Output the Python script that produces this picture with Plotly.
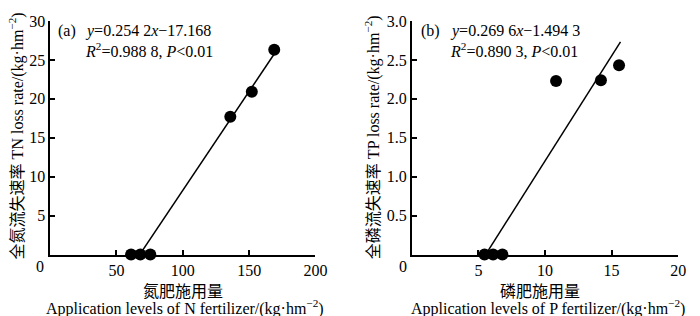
import plotly.graph_objects as go

# ---- data ----
n_x = [61, 68, 75.5, 135.8, 152, 168.9]
n_y = [0, 0, 0, 17.7, 20.9, 26.3]
n_fit_x = [67.5, 169.5]
n_slope, n_int = 0.2542, -17.168

p_x = [5.46, 6.1, 6.8, 10.83, 14.2, 15.56]
p_y = [0, 0, 0, 2.23, 2.24, 2.43]
p_fit_x = [5.54, 15.67]
p_slope, p_int = 0.2696, -1.4943

n_xticks = [50, 100, 150, 200]
n_yticks = [5, 10, 15, 20, 25, 30]
p_xticks = [5, 10, 15, 20]
p_yticks = [0.5, 1.0, 1.5, 2.0, 2.5, 3.0]

W, H = 700, 316
SERIF = "Liberation Serif, Times New Roman, serif"
CJK = "Noto Sans CJK SC"

fig = go.Figure()
fig.add_trace(go.Scatter(x=n_fit_x, y=[n_slope * v + n_int for v in n_fit_x], mode="lines",
                         line=dict(color="black", width=1.5), xaxis="x", yaxis="y", cliponaxis=False))
fig.add_trace(go.Scatter(x=n_x, y=n_y, mode="markers", marker=dict(color="black", size=12),
                         xaxis="x", yaxis="y", cliponaxis=False))
fig.add_trace(go.Scatter(x=p_fit_x, y=[p_slope * v + p_int for v in p_fit_x], mode="lines",
                         line=dict(color="black", width=1.5), xaxis="x2", yaxis="y2", cliponaxis=False))
fig.add_trace(go.Scatter(x=p_x, y=p_y, mode="markers", marker=dict(color="black", size=12),
                         xaxis="x2", yaxis="y2", cliponaxis=False))

ydom = [(H - 253) / H, (H - 13.3) / H]
axis_common = dict(showline=True, linecolor="black", linewidth=1.5, ticks="inside", ticklen=5,
                   tickcolor="black", tickwidth=1.5, showgrid=False, zeroline=False,
                   tickfont=dict(family=SERIF, size=16, color="black"))

fig.update_layout(
    width=W, height=H, margin=dict(l=0, r=0, t=0, b=0),
    paper_bgcolor="white", plot_bgcolor="white", showlegend=False,
    xaxis=dict(domain=[51 / W, 321 / W], range=[0, 200], tickvals=n_xticks, anchor="y",
               ticklabelstandoff=0, **axis_common),
    yaxis=dict(domain=ydom, range=[0, 30], tickvals=n_yticks, anchor="x", **axis_common),
    xaxis2=dict(domain=[419 / W, 690 / W], range=[0, 20], tickvals=p_xticks, anchor="y2",
                ticklabelstandoff=0, **axis_common),
    yaxis2=dict(domain=ydom, range=[0, 3], tickvals=p_yticks, tickformat=".1f", anchor="x2",
                ticklabelstandoff=0, **axis_common),
)

def ann(text, x, y, size=16, family=SERIF, xanchor="left", yanchor="middle", angle=0):
    fig.add_annotation(text=text, x=x / W, y=1 - y / H, xref="paper", yref="paper",
                       xanchor=xanchor, yanchor=yanchor, showarrow=False, textangle=angle,
                       font=dict(family=family, size=size, color="black"))

# origin labels
ann("0", 41, 265, xanchor="center")
ann("0", 410, 265, xanchor="center")

# panel labels and equations
ann("(a)", 57, 24)
ann("<i>y</i>=0.254 2<i>x</i>−17.168", 84, 24)
ann("<i>R</i><sup>2</sup>=0.988 8, <i>P</i><0.01", 84, 43)
ann("(b)", 426, 24)
ann("<i>y</i>=0.269 6<i>x</i>−1.494 3", 456, 24)
ann("<i>R</i><sup>2</sup>=0.890 3, <i>P</i><0.01", 456, 43)

# x titles
ann("氮肥施用量", 186, 289, size=16, family=CJK, xanchor="center")
ann("Application levels of N fertilizer/(kg·hm<sup>−2</sup>)", 188, 307.5, xanchor="center")
ann("磷肥施用量", 549, 289, size=16, family=CJK, xanchor="center")
ann("Application levels of P fertilizer/(kg·hm<sup>−2</sup>)", 558, 307.5, xanchor="center")

# y titles
ytitle_n = "<span style='font-family:Noto Sans CJK SC'>全氮流失速率</span> TN loss rate/(kg·hm<sup>−2</sup>)"
ytitle_p = "<span style='font-family:Noto Sans CJK SC'>全磷流失速率</span> TP loss rate/(kg·hm<sup>−2</sup>)"
ann(ytitle_n, 16, 131, xanchor="center", angle=-90)
ann(ytitle_p, 378, 133, xanchor="center", angle=-90)

fig.write_html("out.html", config={"displayModeBar": False},
               post_script="document.body.style.margin='0';document.body.style.overflow='hidden';")
